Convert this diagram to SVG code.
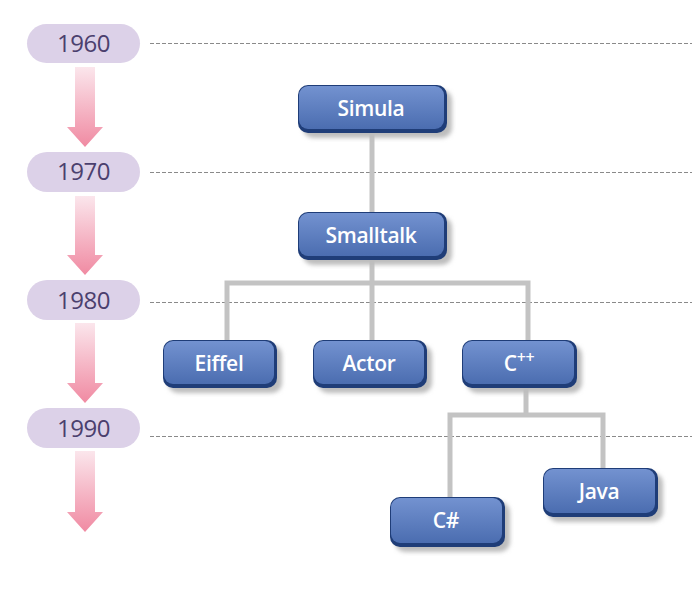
<svg xmlns="http://www.w3.org/2000/svg" width="698" height="590" viewBox="0 0 698 590">
<defs>
<linearGradient id="nodeGrad" x1="0" y1="0" x2="0" y2="1">
<stop offset="0" stop-color="#7392d0"/>
<stop offset="1" stop-color="#4b6db0"/>
</linearGradient>
<linearGradient id="arrowGrad" x1="0" y1="0" x2="0" y2="1">
<stop offset="0" stop-color="#fbe6ec"/>
<stop offset="1" stop-color="#f08aa2"/>
</linearGradient>
<filter id="shadow" x="-20%" y="-20%" width="150%" height="160%">
<feGaussianBlur stdDeviation="2"/>
</filter>
<style>
.pill{fill:#dcd1e8}
.year{font-family:"Open Sans","Liberation Sans",sans-serif;font-size:24px;fill:#4b3f6e;text-anchor:middle;letter-spacing:-0.5px}
.dash{stroke:#8a8a8a;stroke-width:1;stroke-dasharray:4 2;fill:none}
.conn{stroke:#c3c3c3;stroke-width:5;fill:none}
.shd{fill:#bdbdbd;filter:url(#shadow)}
.edge{fill:#1f3d78}
.face{fill:url(#nodeGrad)}
.label{font-family:"Open Sans","Liberation Sans",sans-serif;font-size:21px;font-weight:600;fill:#ffffff;text-anchor:middle;letter-spacing:-0.3px}
.arrow{fill:url(#arrowGrad)}
</style>
</defs>
<rect width="698" height="590" fill="#ffffff"/>
<g id="timeline">
<g id="y1960"><rect class="pill" x="27" y="24" width="113" height="39" rx="19.5"/><text class="year" x="83.5" y="52">1960</text></g>
<g id="y1970"><rect class="pill" x="27" y="152" width="113" height="40" rx="20"/><text class="year" x="83.5" y="180">1970</text></g>
<g id="y1980"><rect class="pill" x="27" y="280" width="113" height="40" rx="20"/><text class="year" x="83.5" y="309">1980</text></g>
<g id="y1990"><rect class="pill" x="27" y="408" width="113" height="40" rx="20"/><text class="year" x="83.5" y="437">1990</text></g>
<path class="arrow" d="M75 67H95V127H103L85 147L67 127H75Z"/>
<path class="arrow" d="M75 196H95V255H103L85 275L67 255H75Z"/>
<path class="arrow" d="M75 323H95V383H103L85 403L67 383H75Z"/>
<path class="arrow" d="M75 451H95V512H103L85 532L67 512H75Z"/>
<line class="dash" x1="150" y1="43.5" x2="692" y2="43.5"/>
<line class="dash" x1="150" y1="172.5" x2="692" y2="172.5"/>
<line class="dash" x1="150" y1="302.5" x2="692" y2="302.5"/>
<line class="dash" x1="150" y1="436.5" x2="692" y2="436.5"/>
</g>
<g id="connectors">
<line class="conn" x1="372" y1="130" x2="372" y2="214"/>
<path class="conn" d="M372 258V283M227 340V283H528V340M372 283V340"/>
<path class="conn" d="M526 386V415M450 497V415H603V468"/>
</g>
<g id="simula">
<rect class="shd" x="303" y="90" width="149" height="48" rx="10"/>
<rect class="edge" x="298" y="85" width="149" height="48" rx="10"/>
<rect class="face" x="299" y="86" width="145" height="43" rx="9"/>
<text class="label" x="371" y="116">Simula</text>
</g>
<g id="smalltalk">
<rect class="shd" x="303" y="217" width="149" height="48" rx="10"/>
<rect class="edge" x="298" y="212" width="149" height="48" rx="10"/>
<rect class="face" x="299" y="213" width="145" height="43" rx="9"/>
<text class="label" x="371" y="243">Smalltalk</text>
</g>
<g id="eiffel">
<rect class="shd" x="168" y="345" width="114" height="48" rx="10"/>
<rect class="edge" x="163" y="340" width="114" height="48" rx="10"/>
<rect class="face" x="164" y="341" width="110" height="43" rx="9"/>
<text class="label" x="219" y="371">Eiffel</text>
</g>
<g id="actor">
<rect class="shd" x="318" y="345" width="114" height="48" rx="10"/>
<rect class="edge" x="313" y="340" width="114" height="48" rx="10"/>
<rect class="face" x="314" y="341" width="110" height="43" rx="9"/>
<text class="label" x="369" y="371">Actor</text>
</g>
<g id="cpp">
<rect class="shd" x="467" y="345" width="115" height="48" rx="10"/>
<rect class="edge" x="462" y="340" width="115" height="48" rx="10"/>
<rect class="face" x="463" y="341" width="111" height="43" rx="9"/>
<text class="label" x="519" y="371">C<tspan font-size="16" dy="-8">++</tspan></text>
</g>
<g id="csharp">
<rect class="shd" x="395" y="502" width="115" height="50" rx="10"/>
<rect class="edge" x="390" y="497" width="115" height="50" rx="10"/>
<rect class="face" x="391" y="498" width="111" height="45" rx="9"/>
<text class="label" x="446" y="528">C#</text>
</g>
<g id="java">
<rect class="shd" x="548" y="473" width="115" height="49" rx="10"/>
<rect class="edge" x="543" y="468" width="115" height="49" rx="10"/>
<rect class="face" x="544" y="469" width="111" height="44" rx="9"/>
<text class="label" x="599" y="499">Java</text>
</g>
</svg>
